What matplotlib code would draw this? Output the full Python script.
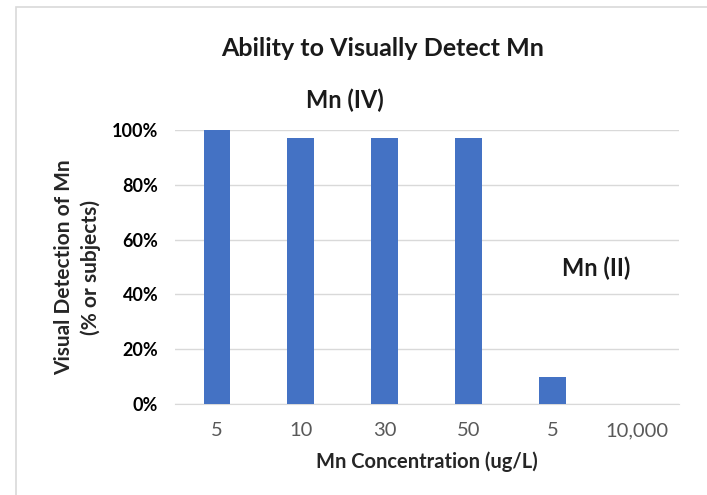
import matplotlib.pyplot as plt
from matplotlib.patches import Rectangle
from matplotlib.ticker import PercentFormatter

categories = ["5", "10", "30", "50", "5", "10,000"]
detection = [1.00, 0.97, 0.97, 0.97, 0.10, 0.0]
y_ticks = [0, 0.2, 0.4, 0.6, 0.8, 1.0]

plt.rcParams['font.family'] = ['Lato', 'DejaVu Sans']

fig = plt.figure(figsize=(7.07, 4.95), dpi=100)
ax = fig.add_axes([0.2475, 0.184, 0.7125, 0.553])

# outer frame like the slide box
fig.patches.append(Rectangle((16 / 707, -0.1), 1.2, 1 - 7 / 495 + 0.1,
                             transform=fig.transFigure, fill=False,
                             edgecolor='#d9d9d9', linewidth=1.2))

x = range(len(categories))
ax.bar(x, detection, width=0.32, color='#4472C4', zorder=3)

ax.set_xlim(-0.5, len(categories) - 0.5)
ax.set_ylim(0, 1.0)
ax.set_yticks(y_ticks)
ax.yaxis.set_major_formatter(PercentFormatter(1.0, decimals=0))
ax.set_xticks(list(x))
ax.set_xticklabels(categories)
ax.grid(axis='y', color='#d9d9d9', linewidth=1, zorder=0)
ax.tick_params(axis='both', length=0)
ax.tick_params(axis='x', colors='#595959', labelsize=14.5, pad=13)
ax.tick_params(axis='y', labelsize=13, pad=12)
for lab in ax.get_yticklabels():
    lab.set_fontweight('bold')
for s in ['top', 'right', 'left']:
    ax.spines[s].set_visible(False)
ax.spines['bottom'].set_color('#d9d9d9')

ax.set_xlabel("Mn Concentration (ug/L)", fontsize=14.5, fontweight='bold',
              color='#262626', labelpad=9)
ax.set_ylabel("Visual Detection of Mn\n(% or subjects)", fontsize=15,
              fontweight='bold', color='#262626', labelpad=8, linespacing=1.35)

fig.text(383 / 707, 1 - 48 / 495, "Ability to Visually Detect Mn",
         ha='center', va='center', fontsize=18, fontweight='bold', color='#1a1a1a')
fig.text(345 / 707, 1 - 100 / 495, "Mn (IV)", ha='center', va='center',
         fontsize=17, fontweight='bold', color='#1a1a1a')
fig.text(596 / 707, 1 - 268 / 495, "Mn (II)", ha='center', va='center',
         fontsize=17, fontweight='bold', color='#1a1a1a')

fig.savefig("out.png", dpi=100)
